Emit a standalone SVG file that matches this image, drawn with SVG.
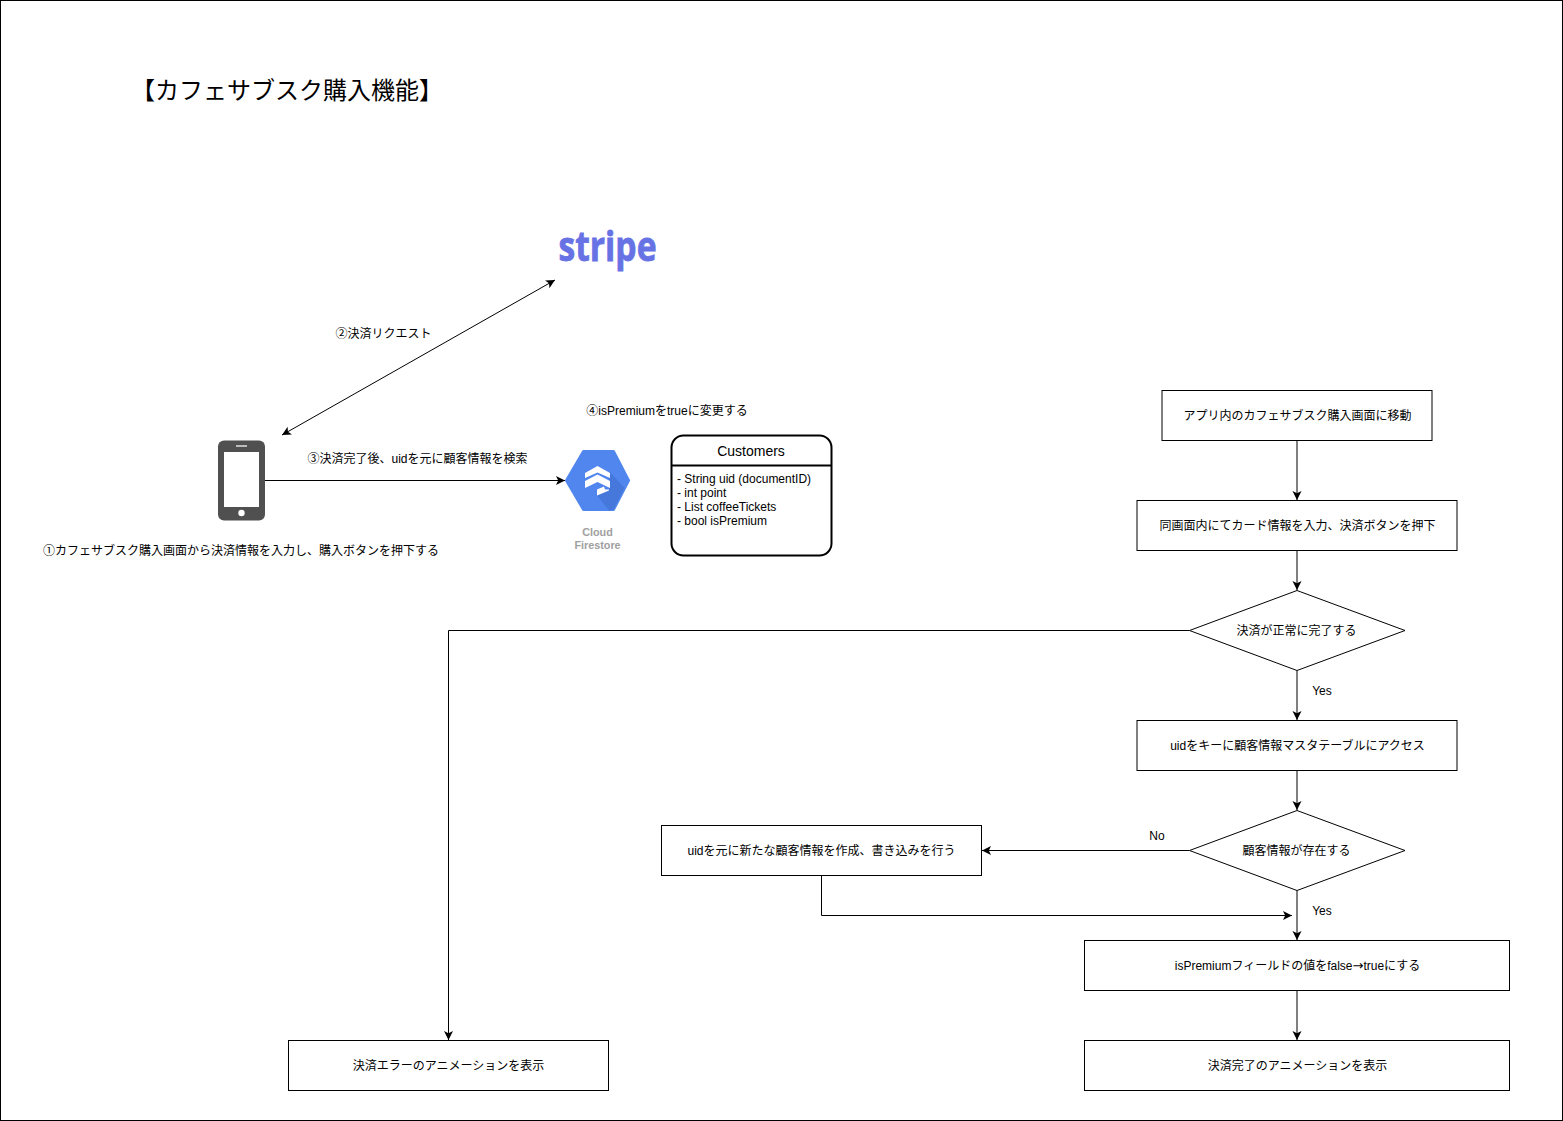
<svg xmlns="http://www.w3.org/2000/svg" width="1563" height="1121" viewBox="0 0 1563 1121">
<defs>
<marker id="arr" markerUnits="userSpaceOnUse" markerWidth="12" markerHeight="10" refX="9" refY="4.500" orient="auto-start-reverse"><path d="M0 0L9 4.500L0 9L2.200 4.500Z" fill="#000"/></marker>
</defs>
<style>
text{font-family:"Liberation Sans","Noto Sans CJK JP",sans-serif;font-size:12px;fill:#000}
.m{text-anchor:middle}
.b{fill:#fff;stroke:#000;stroke-width:1}
.c{fill:none;stroke:#000;stroke-width:1;marker-end:url(#arr)}
</style>
<rect x="0.500" y="0.500" width="1562" height="1120" fill="#fff" stroke="#000"/>
<text id="title" x="131" y="98.500" style="font-size:24px">【カフェサブスク購入機能】</text>
<g id="connectors">
<path class="c" d="M282 435L555 280" style="marker-start:url(#arr)"/>
<path class="c" d="M265 480.500H565"/>
<path class="c" d="M1297 440.500V500"/>
<path class="c" d="M1297 550.500V590"/>
<path class="c" d="M1297 670.500V720"/>
<path class="c" d="M1297 770.500V810"/>
<path class="c" d="M1297 890.500V940"/>
<path class="c" d="M1297 990.500V1040"/>
<path class="c" d="M1189.500 630.500H448.500V1040"/>
<path class="c" d="M1189.500 850.500H982"/>
<path class="c" d="M821.500 875.500V915.500H1292"/>
</g>
<g id="phone">
<rect x="218" y="440.500" width="47" height="80" rx="6" fill="#505050"/>
<rect x="224" y="452" width="35" height="55" fill="#fff"/>
<rect x="236" y="445" width="11" height="2" fill="#bbb"/>
<circle cx="241.500" cy="513" r="3.200" fill="#fff"/>
</g>
<g id="stripe"><text x="607.500" y="261" class="m" style="font-family:'Open Sans','Liberation Sans',sans-serif;font-size:41px;font-weight:700;fill:#6772e5;stroke:#6772e5;stroke-width:.8" textLength="98" lengthAdjust="spacingAndGlyphs">stripe</text></g>
<g id="firestore">
<path d="M583.500 451.500H613.500L628.500 480.500L613.500 509.500H583.500L566.500 480.500Z" fill="#5086ee" stroke="#5086ee" stroke-width="3" stroke-linejoin="round"/>
<path d="M609 471L624.500 488L613.500 509.500L609 510.500L597 495.500L609 490Z" fill="#4678dc"/>
<path d="M597.500 466L610 473V478L597.500 472.500L585 478V473ZM597.500 474.500L610 481V488L597.500 482L585 488V481ZM597 489.500L604 486.500L605 489.500H609V490.500L597 495.500Z" fill="#fff"/>
<text x="597.500" y="536" class="m" style="font-size:10.800px;font-weight:700;fill:#a0a0a0">Cloud</text>
<text x="597.500" y="549" class="m" style="font-size:10.800px;font-weight:700;fill:#a0a0a0">Firestore</text>
</g>
<g id="customers">
<rect x="671.500" y="435.500" width="160" height="120" rx="12" fill="#fff" stroke="#000" stroke-width="2"/>
<path d="M671.500 465.500H831.500" stroke="#000" stroke-width="2"/>
<text x="751" y="456" class="m" style="font-size:14px">Customers</text>
<text x="677" y="483">- String uid (documentID)</text>
<text x="677" y="497">- int point</text>
<text x="677" y="511">- List coffeeTickets</text>
<text x="677" y="525">- bool isPremium</text>
</g>
<g id="labels">
<text x="383.500" y="338" class="m">②決済リクエスト</text>
<text x="667" y="415" class="m">④isPremiumをtrueに変更する</text>
<text x="417.500" y="463" class="m">③決済完了後、uidを元に顧客情報を検索</text>
<text x="241" y="555" class="m">①カフェサブスク購入画面から決済情報を入力し、購入ボタンを押下する</text>
<text x="1322" y="695" class="m">Yes</text>
<text x="1322" y="915" class="m">Yes</text>
<text x="1157" y="840" class="m">No</text>
</g>
<g id="n1"><rect class="b" x="1162" y="390.500" width="270" height="50"/><text x="1297.500" y="420" class="m">アプリ内のカフェサブスク購入画面に移動</text></g>
<g id="n2"><rect class="b" x="1137" y="500.500" width="320" height="50"/><text x="1297.500" y="530" class="m">同画面内にてカード情報を入力、決済ボタンを押下</text></g>
<g id="n3"><path class="b" d="M1297 590.500L1405 630.500L1297 670.500L1189.500 630.500Z"/><text x="1296.500" y="635" class="m">決済が正常に完了する</text></g>
<g id="n4"><rect class="b" x="1137" y="720.500" width="320" height="50"/><text x="1297.500" y="750" class="m">uidをキーに顧客情報マスタテーブルにアクセス</text></g>
<g id="n5"><path class="b" d="M1297 810.500L1405 850.500L1297 890.500L1189.500 850.500Z"/><text x="1296.500" y="855" class="m">顧客情報が存在する</text></g>
<g id="n6"><rect class="b" x="661.500" y="825.500" width="320" height="50"/><text x="821.500" y="855" class="m">uidを元に新たな顧客情報を作成、書き込みを行う</text></g>
<g id="n7"><rect class="b" x="1084.500" y="940.500" width="425" height="50"/><text x="1297.500" y="970" class="m">isPremiumフィールドの値をfalse<tspan style="font-family:'DejaVu Sans',sans-serif;font-size:13px">→</tspan>trueにする</text></g>
<g id="n8"><rect class="b" x="1084.500" y="1040.500" width="425" height="50"/><text x="1297.500" y="1070" class="m">決済完了のアニメーションを表示</text></g>
<g id="n9"><rect class="b" x="288.500" y="1040.500" width="320" height="50"/><text x="448.500" y="1070" class="m">決済エラーのアニメーションを表示</text></g>
</svg>
